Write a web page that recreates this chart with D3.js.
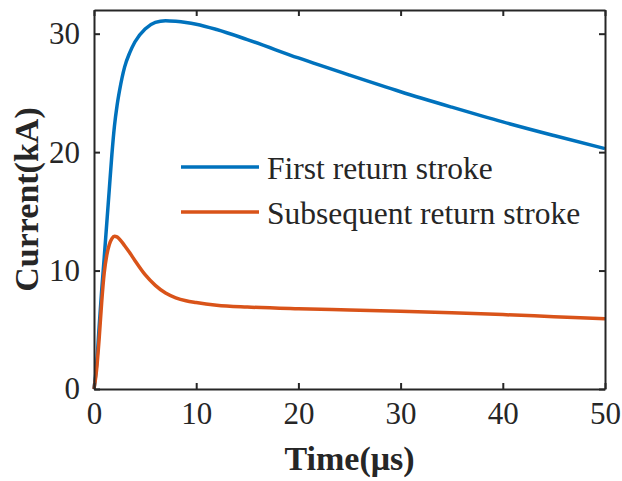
<!DOCTYPE html>
<html>
<head>
<meta charset="utf-8">
<script src="https://cdn.jsdelivr.net/npm/d3@7"></script>
<style>
  html, body { margin: 0; padding: 0; background: #fff; }
  svg { display: block; }
  text { font-family: "Liberation Serif", "Times New Roman", serif; fill: #262626; }
</style>
</head>
<body>
<svg id="chart" width="622" height="481"></svg>
<script>
// Lightning current waveforms (kA) against time (µs)
const timeUs = [0, 0.25, 0.5, 0.75, 1.0, 1.25, 1.5, 1.75, 2.0, 2.25, 2.5, 3.0, 3.5, 4, 5, 6, 7, 8, 9, 10, 12, 15, 20, 25, 30, 35, 40, 45, 50];
const firstStroke = [0, 2.0, 5.2, 8.3, 11.1, 14.0, 16.9, 19.8, 22.2, 23.9, 25.2, 27.2, 28.4, 29.3, 30.4, 30.95, 31.1, 31.05, 30.95, 30.8, 30.35, 29.5, 27.95, 26.5, 25.1, 23.8, 22.55, 21.4, 20.3];
const subsequentStroke = [0, 1.6, 4.2, 7.3, 9.8, 11.3, 12.2, 12.7, 12.9, 12.85, 12.65, 12.1, 11.5, 10.85, 9.65, 8.75, 8.1, 7.7, 7.45, 7.3, 7.08, 6.92, 6.77, 6.67, 6.56, 6.43, 6.28, 6.11, 5.94];
const seriesNames = ["First return stroke", "Subsequent return stroke"];
const seriesColors = ["#0072BD", "#D95319"];
const xTicks = [0, 10, 20, 30, 40, 50];
const yTicks = [0, 10, 20, 30];

(function () {
  const svg = d3.select("#chart");
  const plotLeft = 94, plotRight = 605, plotTop = 10, plotBottom = 389;
  const axisColor = "#262626";

  const x = d3.scaleLinear().domain([0, 50]).range([plotLeft, plotRight]);
  const y = d3.scaleLinear().domain([0, 32]).range([plotBottom, plotTop]);

  // Curves
  const line = d3.line()
    .x(d => x(d[0]))
    .y(d => y(d[1]))
    .curve(d3.curveMonotoneX);

  [firstStroke, subsequentStroke].forEach((vals, i) => {
    svg.append("path")
      .datum(timeUs.map((t, k) => [t, vals[k]]))
      .attr("fill", "none")
      .attr("stroke", seriesColors[i])
      .attr("stroke-width", 3.5)
      .attr("stroke-linejoin", "round")
      .attr("d", line);
  });

  // Axes with inward ticks on all four sides
  const tickLen = 6;
  const styleAxis = g => {
    g.select(".domain").attr("stroke", axisColor).attr("stroke-width", 2);
    g.selectAll(".tick line").attr("stroke", axisColor).attr("stroke-width", 2);
  };
  const styleLabels = g => g.selectAll(".tick text")
    .attr("font-size", 31).attr("fill", axisColor)
    .attr("font-family", "Liberation Serif, Times New Roman, serif");

  svg.append("g")
    .attr("transform", `translate(0,${plotBottom})`)
    .call(d3.axisBottom(x).tickValues(xTicks).tickSizeInner(-tickLen).tickSizeOuter(0).tickPadding(13).tickFormat(d3.format("d")))
    .call(styleAxis)
    .call(styleLabels);

  svg.append("g")
    .attr("transform", `translate(0,${plotTop})`)
    .call(d3.axisTop(x).tickValues(xTicks).tickSizeInner(-tickLen).tickSizeOuter(0).tickFormat(""))
    .call(styleAxis);

  svg.append("g")
    .attr("transform", `translate(${plotLeft},0)`)
    .call(d3.axisLeft(y).tickValues(yTicks).tickSizeInner(-tickLen).tickSizeOuter(0).tickPadding(14).tickFormat(d3.format("d")))
    .call(styleAxis)
    .call(styleLabels);

  svg.append("g")
    .attr("transform", `translate(${plotRight},0)`)
    .call(d3.axisRight(y).tickValues(yTicks).tickSizeInner(-tickLen).tickSizeOuter(0).tickFormat(""))
    .call(styleAxis);

  // Axis titles
  svg.append("text")
    .attr("x", (plotLeft + plotRight) / 2)
    .attr("y", 470)
    .attr("text-anchor", "middle")
    .attr("font-size", 34)
    .attr("font-weight", "bold")
    .attr("fill", "#000")
    .text("Time(μs)");

  svg.append("text")
    .attr("transform", `translate(38,${(plotTop + plotBottom) / 2}) rotate(-90)`)
    .attr("text-anchor", "middle")
    .attr("font-size", 34)
    .attr("font-weight", "bold")
    .attr("fill", "#000")
    .text("Current(kA)");

  // Legend
  const legendRows = [167, 212];
  seriesNames.forEach((name, i) => {
    svg.append("line")
      .attr("x1", 181).attr("x2", 259)
      .attr("y1", legendRows[i]).attr("y2", legendRows[i])
      .attr("stroke", seriesColors[i])
      .attr("stroke-width", 3.5);
    svg.append("text")
      .attr("x", 267)
      .attr("y", legendRows[i] + 12)
      .attr("font-size", 31.5)
      .attr("fill", "#000")
      .text(name);
  });
})();
</script>
</body>
</html>
